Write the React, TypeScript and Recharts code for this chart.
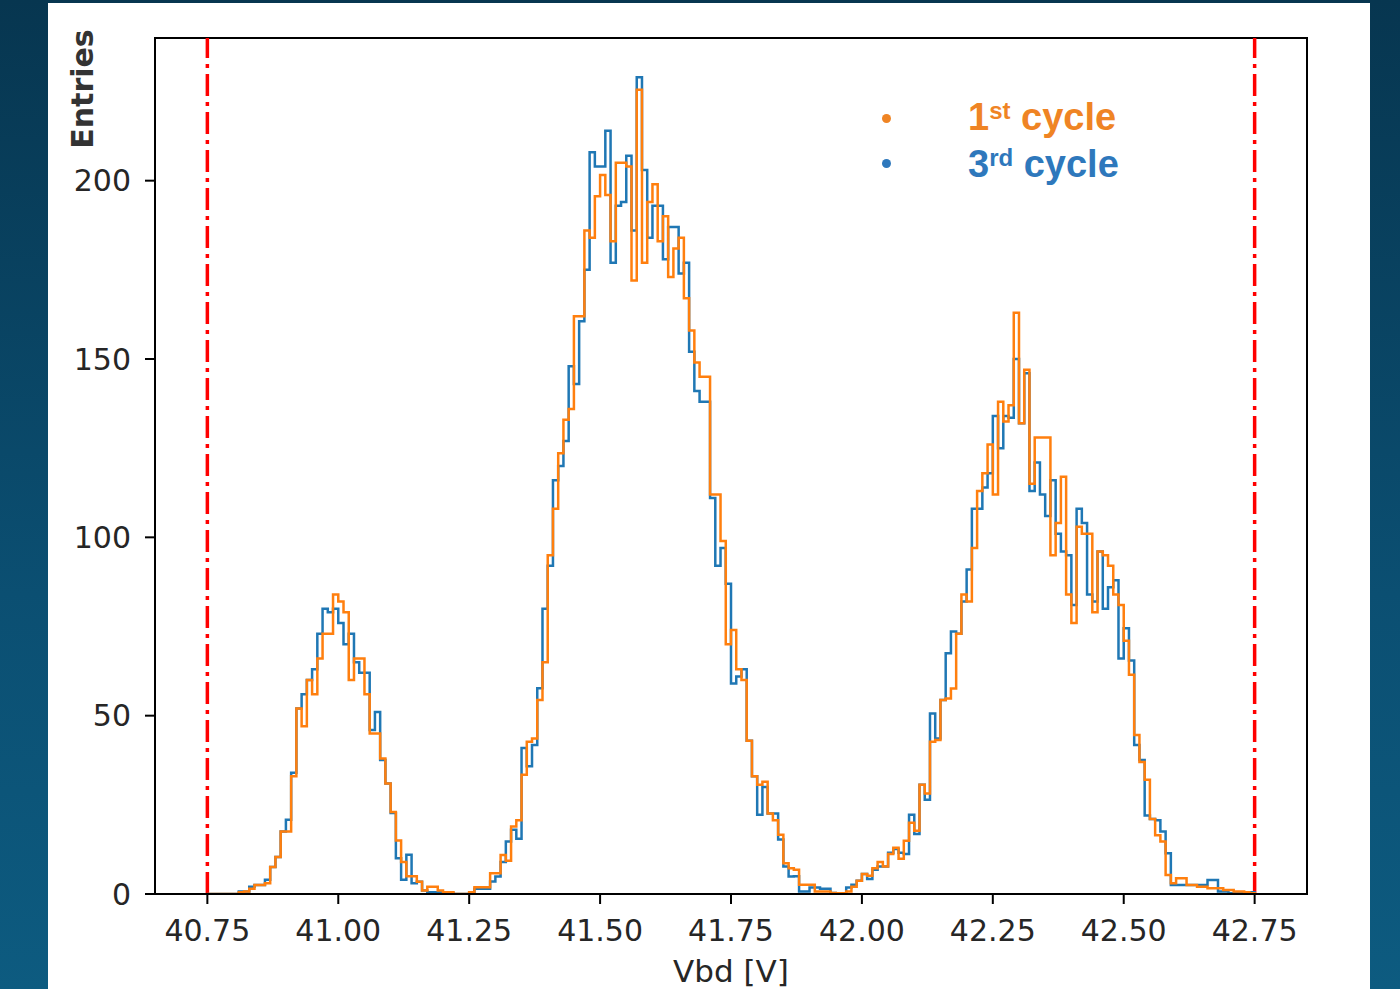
import React from "react";
import {
  LineChart,
  Line,
  XAxis,
  YAxis,
  ReferenceLine,
  ReferenceArea,
} from "recharts";

// histogram binning: 0.01 V bins from 40.75 V
const binStart = 40.75;
const binWidth = 0.01;

// entries per bin, 1st cycle (orange)
const cycle1 = [
  0, 0, 0, 0, 0, 0, 0.5, 0.7, 1.5, 2.5,
  2.5, 3, 7.6, 10.4, 17.5, 17.5, 33, 52, 47, 60,
  56, 66, 73, 73, 84, 82, 79, 60, 66, 66,
  56, 45, 45, 38, 31, 23, 15, 9, 5, 5,
  3.4, 1, 2, 2, 1, 0.5, 0.5, 0, 0, 0,
  0.5, 1.9, 1.9, 1.9, 5.8, 5.8, 10.9, 9.3, 18.9, 20.7,
  33.4, 42.7, 43.6, 54.4, 65, 95, 108, 123.6, 133, 136,
  162, 162, 186, 184, 195.6, 201.6, 196, 183, 205, 205,
  204, 172, 225.5, 177, 194, 199, 183, 190, 173, 181,
  184, 167, 158, 149, 145, 145, 112, 112, 99, 70,
  74, 63, 60, 43, 33, 30.6, 31.5, 22.6, 20.7, 16.6,
  8.6, 7.2, 6.8, 2.6, 2.6, 2.6, 0.7, 0.7, 0.7, 0.3,
  0.2, 0.2, 0.7, 2, 3.7, 5.6, 5.1, 7.2, 9, 7.7,
  11.2, 13, 9.9, 14.9, 20, 17.7, 30.6, 28.2, 42.7, 43.2,
  54.4, 54.8, 57.6, 73, 84, 82, 97, 113, 118, 126,
  112, 138, 132.5, 137, 163, 132, 147, 115, 128, 128,
  128, 95, 104, 117, 84, 76, 103, 101, 101, 79,
  96, 95, 92, 84, 81, 71, 61.5, 44.6, 37, 32,
  21, 16.5, 14.7, 5.3, 3, 4.4, 4.4, 2.5, 2.5, 2,
  2, 1.6, 1.6, 1.6, 1.1, 1.1, 0.7, 0.7, 0.5, 0.2,
];

// entries per bin, 3rd cycle (blue)
const cycle3 = [
  0, 0, 0, 0, 0, 0, 0.7, 0.7, 2, 2.5,
  2.5, 4, 7.6, 10.4, 17.5, 20.8, 34, 52, 56, 60,
  63, 73, 80, 79, 80, 76, 70, 73, 65, 62,
  62, 46, 51, 37.6, 31, 22.7, 10, 4, 11, 3,
  3.4, 1, 0.5, 0.5, 0.5, 0.3, 0.3, 0, 0, 0,
  0.5, 1.5, 1.5, 1.5, 3.5, 4.9, 9, 14.7, 18, 15.5,
  40.9, 35.8, 41.8, 57.7, 80, 92, 116, 120, 127, 148,
  143, 160.6, 175, 208, 204, 204, 214, 177, 193, 194,
  207, 186, 229, 203, 184, 193, 193, 178, 187, 187,
  174, 177, 152, 141, 138, 138, 111, 92, 97, 87,
  59, 61, 63, 43, 33, 22.2, 30, 22.6, 22.6, 15.3,
  7.7, 4.9, 5, 0.7, 0.7, 1.8, 1.8, 1.5, 1.5, 0.3,
  0, 0, 1.8, 2.6, 3.7, 5.6, 4.2, 6.8, 7.7, 7.7,
  11.6, 12.6, 11.6, 11.2, 22.2, 16.8, 30.6, 26.4, 50.6, 43.6,
  54.4, 67.5, 73.6, 73, 82, 91, 108, 108, 114, 118,
  134, 125, 134, 133.5, 150, 132, 146, 113, 121, 112,
  106, 116, 101, 96, 95, 81, 108, 104, 84, 82,
  96, 80, 86, 88, 66, 74.5, 65.5, 41.8, 37.6, 22,
  21, 20.7, 17.5, 11.4, 2.5, 2.5, 2.5, 2.5, 2.5, 2.5,
  2.5, 3.9, 3.9, 0.7, 0.7, 0.2, 0.2, 0.2, 0.2, 0.5,
];

const xTicks = [40.75, 41.0, 41.25, 41.5, 41.75, 42.0, 42.25, 42.5, 42.75];
const yTicks = [0, 50, 100, 150, 200];
const cutLines = [40.75, 42.75];

// one point per bin edge, last edge closes the step back to 0
const data = Array.from({ length: cycle1.length + 1 }, (_, i) => ({
  vbd: +(binStart + i * binWidth).toFixed(2),
  first: cycle1[i] ?? 0,
  third: cycle3[i] ?? 0,
}));

const tickFont = {
  fontFamily: "DejaVu Sans",
  fontSize: 30,
  fill: "#262626",
};

const ORANGE = "#ff7f0e";
const BLUE = "#1f77b4";

export default function App() {
  return (
    <div
      style={{
        position: "absolute",
        left: 0,
        top: 0,
        width: 1400,
        height: 989,
        overflow: "hidden",
        background: "linear-gradient(to bottom, #073650, #0b4f72 60%, #0d5b80)",
      }}
    >
      <div
        style={{
          position: "absolute",
          left: 48,
          top: 3,
          width: 1322,
          height: 990,
          background: "#ffffff",
        }}
      />
      <div style={{ position: "absolute", left: 0, top: 0 }}>
        <LineChart
          width={1400}
          height={989}
          data={data}
          margin={{ top: 38, right: 93, bottom: 35, left: 95 }}
        >
          <XAxis
            dataKey="vbd"
            type="number"
            domain={[40.65, 42.85]}
            ticks={xTicks}
            tickFormatter={(v: number) => v.toFixed(2)}
            tick={tickFont}
            tickSize={10}
            tickMargin={16}
            tickLine={{ stroke: "#000", strokeWidth: 2 }}
            axisLine={{ stroke: "#000", strokeWidth: 2 }}
            height={60}
            allowDataOverflow
            label={{
              value: "Vbd [V]",
              position: "bottom",
              offset: 6,
              style: { fontFamily: "DejaVu Sans", fontSize: 31, fill: "#262626" },
            }}
          />
          <YAxis
            type="number"
            domain={[0, 240]}
            ticks={yTicks}
            tick={tickFont}
            tickSize={10}
            tickMargin={14}
            tickLine={{ stroke: "#000", strokeWidth: 2 }}
            axisLine={{ stroke: "#000", strokeWidth: 2 }}
            width={60}
            allowDataOverflow
          />
          <ReferenceArea
            x1={40.65}
            x2={42.85}
            y1={0}
            y2={240}
            fill="none"
            stroke="#000"
            strokeWidth={2}
          />
          {cutLines.map((v) => (
            <ReferenceLine
              key={v}
              x={v}
              stroke="#ff0000"
              strokeWidth={3.5}
              strokeDasharray="22 6 4 6"
            />
          ))}
          <Line
            dataKey="third"
            type="stepAfter"
            stroke={BLUE}
            strokeWidth={2.5}
            dot={false}
            activeDot={false}
            isAnimationActive={false}
          />
          <Line
            dataKey="first"
            type="stepAfter"
            stroke={ORANGE}
            strokeWidth={2.5}
            dot={false}
            activeDot={false}
            isAnimationActive={false}
          />
        </LineChart>
      </div>

      {/* y label sits at the top of the axis */}
      <div
        style={{
          position: "absolute",
          left: 82,
          top: 89,
          transform: "translate(-50%, -50%) rotate(-90deg)",
          fontFamily: "DejaVu Sans",
          fontWeight: "bold",
          fontSize: 30,
          color: "#333333",
          whiteSpace: "nowrap",
        }}
      >
        Entries
      </div>

      {/* legend */}
      {[
        { top: 98, dot: 118, color: "#ef8424", num: "1", sup: "st" },
        { top: 145, dot: 163, color: "#2e78bc", num: "3", sup: "rd" },
      ].map((r) => (
        <React.Fragment key={r.num}>
          <div
            style={{
              position: "absolute",
              left: 881.5,
              top: r.dot - 4.5,
              width: 9,
              height: 9,
              borderRadius: "50%",
              background: r.color,
            }}
          />
          <div
            style={{
              position: "absolute",
              left: 968,
              top: r.top,
              fontFamily: "Liberation Sans",
              fontWeight: "bold",
              fontSize: 38,
              lineHeight: "38px",
              color: r.color,
              whiteSpace: "nowrap",
            }}
          >
            {r.num}
            <span style={{ fontSize: 24, position: "relative", top: -11 }}>
              {r.sup}
            </span>{" "}
            cycle
          </div>
        </React.Fragment>
      ))}
    </div>
  );
}
